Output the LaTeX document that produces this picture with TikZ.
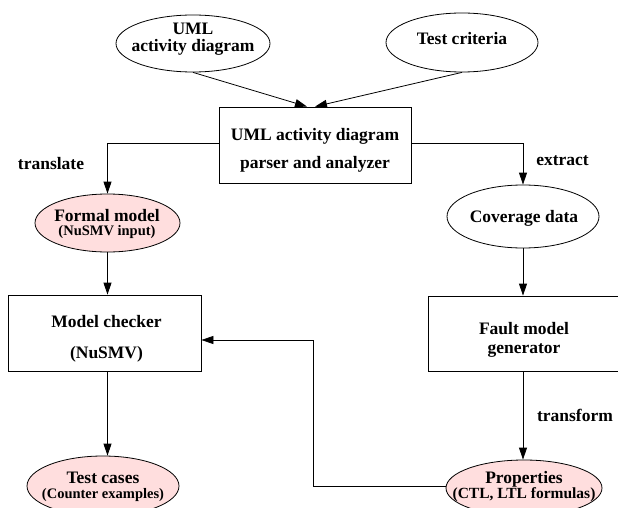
\documentclass[tikz,border=0pt]{standalone}
\usepackage{fontspec}
\setmainfont{Liberation Serif}
\usetikzlibrary{shapes.geometric,arrows.meta}
\definecolor{pinkfill}{RGB}{255,222,222}
\newcommand\mainf{\fontsize{17.5}{17}\bfseries\selectfont}
\newcommand\smallf{\fontsize{14.5}{14}\bfseries\selectfont}
\begin{document}
\begin{tikzpicture}[x=1pt,y=-1pt,
  oval/.style={ellipse,draw,line width=0.8pt,inner sep=0pt},
  pinkoval/.style={oval,fill=pinkfill},
  boxnode/.style={rectangle,draw,line width=0.8pt,inner sep=0pt},
  txt/.style={inner sep=0pt,align=center,font=\mainf},
  arr/.style={line width=0.8pt,-{Triangle[length=12pt,width=8pt]}},
  ln/.style={line width=0.8pt}]
\useasboundingbox (0,0) rectangle (618,508);
\clip (0,0) rectangle (618,508);
% shapes
\node[oval,minimum width=154pt,minimum height=57pt] (uml) at (193,43.5) {};
\node[oval,minimum width=152pt,minimum height=59pt] (crit) at (462,42.5) {};
\node[boxnode,minimum width=192pt,minimum height=76pt] (parser) at (315,145) {};
\node[pinkoval,minimum width=145pt,minimum height=58pt] (formal) at (107.5,223) {};
\node[oval,minimum width=152pt,minimum height=63pt] (cov) at (523,216.5) {};
\node[boxnode,minimum width=193pt,minimum height=76pt] (mc) at (104.5,333) {};
\node[boxnode,minimum width=194pt,minimum height=75pt] (fault) at (525,333.5) {};
\node[pinkoval,minimum width=152pt,minimum height=60pt] (tc) at (103,486) {};
\node[pinkoval,minimum width=156pt,minimum height=56pt] (prop) at (524,488) {};
% texts
\node[txt] (umlt) at (193,39) {UML\\activity diagram};
\node[txt] (critt) at (462,39) {Test criteria};
\node[txt,font=\fontsize{17.5}{28}\bfseries\selectfont] (parsert) at (315,150) {UML activity diagram\\parser and analyzer};
\node[txt,font=\fontsize{17.5}{14}\bfseries\selectfont] (formalt) at (107,224) {Formal model\\{\smallf (NuSMV input)}};
\node[txt] (covt) at (524,218) {Coverage data};
\node[txt,font=\fontsize{17.5}{31}\bfseries\selectfont] (mct) at (106.5,338.5) {Model checker\\(NuSMV)};
\node[txt,font=\fontsize{17.5}{19}\bfseries\selectfont] (faultt) at (524,339.5) {Fault model\\generator};
\node[txt,font=\fontsize{17.5}{15}\bfseries\selectfont] (tct) at (103,486.5) {Test cases\\{\smallf (Counter examples)}};
\node[txt,font=\fontsize{17.5}{15}\bfseries\selectfont] (propt) at (524,486.5) {Properties\\{\fontsize{15.5}{15}\bfseries\selectfont (CTL, LTL formulas)}};
\node[txt] (translate) at (51,164) {translate};
\node[txt] (extract) at (562.5,161) {extract};
\node[txt] (transform) at (575,415) {transform};
% connectors
\draw[arr] (uml.south) -- ([xshift=-8pt]parser.north);
\draw[arr] (crit.south) -- (parser.north);
\draw[arr] ([yshift=2pt]parser.west) -| (formal.north);
\draw[arr] ([yshift=2pt]parser.east) -| (cov.north);
\draw[arr] (formal.south) -- (formal.south |- mc.north);
\draw[arr] (mc.south -| formal.south) -- (tc.north -| formal.south);
\draw[arr] (cov.south) -- (cov.south |- fault.north);
\draw[arr] (fault.south -| cov.south) -- (prop.north -| cov.south);
\coordinate (bend) at (313,486);
\draw[arr] ([yshift=2pt]prop.west) -- (bend) |- ([yshift=-7pt]mc.east);
\end{tikzpicture}
\end{document}
